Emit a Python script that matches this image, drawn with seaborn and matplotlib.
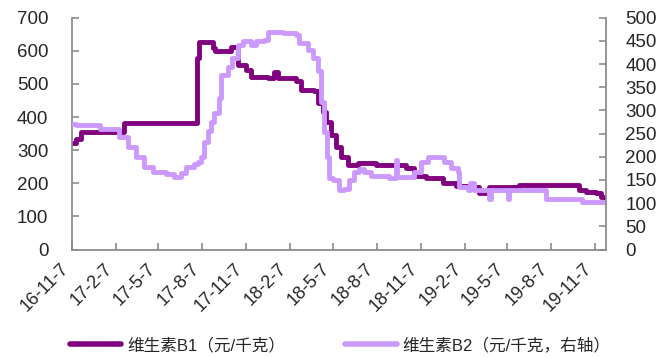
import matplotlib
matplotlib.use("Agg")
import matplotlib.pyplot as plt
import matplotlib.transforms as mtransforms
import seaborn as sns
import pandas as pd
from matplotlib.lines import Line2D

sns.set_style("white")
plt.rcParams['font.family'] = ['Liberation Sans', 'Noto Sans CJK SC', 'DejaVu Sans']

# ---- data ----
b1_dates = ["2016-11-07", "2016-11-15", "2016-11-26", "2017-02-24", "2017-07-27", "2017-07-31",
            "2017-08-29", "2017-09-02", "2017-10-06", "2017-10-21", "2017-11-06", "2017-11-17",
            "2017-12-22", "2018-01-04", "2018-01-12", "2018-02-19", "2018-03-01", "2018-03-29",
            "2018-04-06", "2018-04-16", "2018-04-23", "2018-05-03", "2018-05-14", "2018-05-24",
            "2018-06-08", "2018-06-29", "2018-08-06", "2018-10-07", "2018-10-24", "2018-11-18",
            "2018-12-24", "2019-01-20", "2019-02-18", "2019-03-09", "2019-03-30", "2019-06-01",
            "2019-09-18", "2019-10-05", "2019-10-20", "2019-11-09", "2019-11-20", "2019-11-30"]
b1_values = [321, 335, 356, 381, 578, 628,
             608, 598, 611, 557, 542, 522,
             517, 535, 518, 510, 482, 480,
             443, 415, 386, 346, 311, 280,
             255, 262, 255, 245, 222, 215,
             200, 192, 190, 170, 190, 195,
             195, 180, 175, 170, 160, 155]

b2_dates = ["2016-11-07", "2016-11-15", "2017-01-05", "2017-02-13", "2017-03-04", "2017-03-21",
            "2017-04-07", "2017-04-25", "2017-05-23", "2017-06-09", "2017-06-23", "2017-07-04",
            "2017-07-20", "2017-07-29", "2017-08-04", "2017-08-10", "2017-08-18", "2017-08-25",
            "2017-08-31", "2017-09-11", "2017-09-15", "2017-09-29", "2017-10-09", "2017-10-20",
            "2017-10-30", "2017-11-17", "2017-11-27", "2017-12-14", "2017-12-22", "2018-01-22",
            "2018-02-19", "2018-02-25", "2018-03-16", "2018-03-26", "2018-04-05", "2018-04-12",
            "2018-04-19", "2018-04-25", "2018-04-29", "2018-05-07", "2018-05-20", "2018-05-31",
            "2018-06-10", "2018-06-21", "2018-07-01", "2018-07-11", "2018-07-26", "2018-09-02",
            "2018-09-16", "2018-09-18", "2018-10-07", "2018-10-24", "2018-11-08", "2018-11-22",
            "2018-12-16", "2018-12-26", "2019-01-10", "2019-01-24", "2019-01-26", "2019-02-14",
            "2019-02-18", "2019-02-27", "2019-03-28", "2019-03-30", "2019-04-03", "2019-05-07",
            "2019-05-09", "2019-05-11", "2019-07-27", "2019-10-11", "2019-11-30"]
b2_values = [271, 268, 261, 243, 222, 200,
             179, 168, 163, 157, 164, 179,
             184, 189, 200, 232, 255, 276,
             294, 326, 376, 394, 412, 441,
             450, 441, 450, 452, 470, 466,
             463, 445, 430, 412, 384, 319,
             254, 200, 154, 150, 128, 130,
             150, 168, 174, 168, 159, 154,
             193, 157, 157, 168, 189, 200,
             200, 189, 175, 168, 135, 128,
             143, 128, 128, 110, 128, 128,
             110, 128, 110, 103, 100]

tick_dates = ["2016-11-07", "2017-02-07", "2017-05-07", "2017-08-07", "2017-11-07", "2018-02-07",
              "2018-05-07", "2018-08-07", "2018-11-07", "2019-02-07", "2019-05-07", "2019-08-07",
              "2019-11-07"]
tick_labels = ["16-11-7", "17-2-7", "17-5-7", "17-8-7", "17-11-7", "18-2-7", "18-5-7",
               "18-8-7", "18-11-7", "19-2-7", "19-5-7", "19-8-7", "19-11-7"]

label_b1 = "维生素B1（元/千克）"
label_b2 = "维生素B2（元/千克，右轴）"

c1 = "#800080"
c2 = "#CC99FF"

df1 = pd.DataFrame({"date": pd.to_datetime(b1_dates), "value": b1_values})
df2 = pd.DataFrame({"date": pd.to_datetime(b2_dates), "value": b2_values})

fig = plt.figure(figsize=(6.72, 3.58), dpi=100)
ax = fig.add_axes([72 / 672, 1 - 249.5 / 358, (606 - 72) / 672, (249.5 - 17.7) / 358])
ax2 = ax.twinx()

sns.lineplot(data=df1, x="date", y="value", ax=ax, color=c1, linewidth=3.5,
             drawstyle="steps-post", legend=False)
sns.lineplot(data=df2, x="date", y="value", ax=ax2, color=c2, linewidth=3.5,
             drawstyle="steps-post", legend=False)

ax.set_xlim(pd.Timestamp("2016-11-07"), pd.Timestamp("2019-11-30"))
ax.set_ylim(0, 700)
ax2.set_ylim(0, 500)
ax.set_yticks(range(0, 701, 100))
ax2.set_yticks(range(0, 501, 50))
ax.set_xticks(pd.to_datetime(tick_dates))
ax.set_xticklabels(tick_labels, rotation=45, ha="right", rotation_mode="default")

offset = mtransforms.ScaledTranslation(5 / 100, 0, fig.dpi_scale_trans)
for lbl in ax.get_xticklabels():
    lbl.set_transform(lbl.get_transform() + offset)

for a in (ax, ax2):
    a.set_xlabel("")
    a.set_ylabel("")
    a.grid(False)
    for s in a.spines.values():
        s.set_color("#8c8c8c")
        s.set_linewidth(1.3)
    a.spines["top"].set_visible(False)

ax.spines["right"].set_visible(False)
ax2.spines["left"].set_visible(False)
ax2.spines["bottom"].set_visible(False)

ax.tick_params(axis="y", direction="in", length=5, width=1.2, color="#8c8c8c",
               labelsize=13.5, pad=17, left=True)
ax.tick_params(axis="x", direction="in", length=5, width=1.2, color="#8c8c8c",
               labelsize=13, pad=8, bottom=True)
ax2.tick_params(axis="y", direction="in", length=5, width=1.2, color="#8c8c8c",
                labelsize=13.5, pad=14, right=True)

handles = [Line2D([0], [0], color=c1, lw=4), Line2D([0], [0], color=c2, lw=4)]
fig.legend(handles, [label_b1, label_b2], loc="center", bbox_to_anchor=(0.506, 0.036),
           ncol=2, frameon=False, fontsize=12, handlelength=3.1, handletextpad=0.35,
           columnspacing=3.6, borderaxespad=0)

fig.savefig("out.png", dpi=100)
